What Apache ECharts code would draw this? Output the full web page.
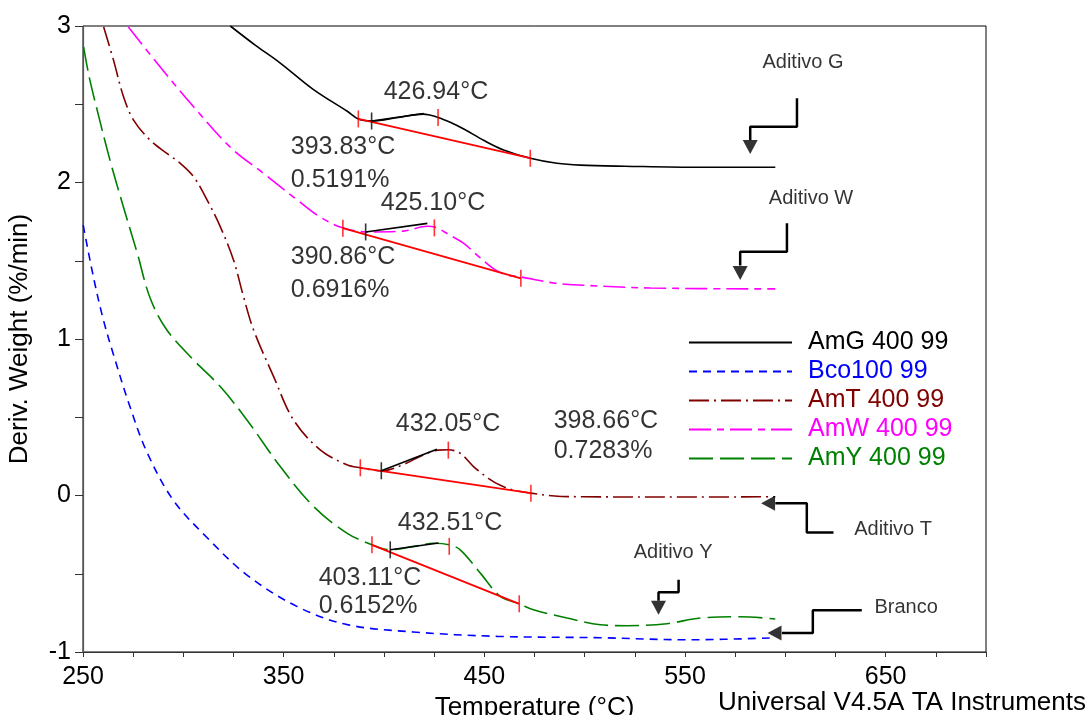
<!DOCTYPE html>
<html>
<head>
<meta charset="utf-8">
<script src="https://cdn.jsdelivr.net/npm/echarts/dist/echarts.min.js"></script>
<style>
  html, body { margin: 0; padding: 0; background: #fff; }
  #chart { width: 1090px; height: 715px; }
</style>
</head>
<body>
<div id="chart"></div>
<script>
// curves: temperature (°C) / deriv. weight (%/min)
var tempG = [323.4, 335.8, 348.3, 364.7, 381.7, 387.2, 394.1, 407, 419.6, 426.9, 433, 440, 449.6, 459.6, 472.9, 486.2, 497.8, 520, 557.6, 595]
var amG = [3.0, 2.878, 2.763, 2.595, 2.455, 2.406, 2.393, 2.415, 2.437, 2.416, 2.385, 2.34, 2.27, 2.208, 2.155, 2.123, 2.111, 2.104, 2.097, 2.097]

var tempB = [250.1, 255.3, 260, 265.2, 273.6, 282.1, 295, 311.9, 331.9, 356.8, 381.7, 414.6, 456.4, 507.8, 552.6, 595]
var bco = [1.727, 1.39, 1.13, 0.9, 0.56, 0.27, -0.03, -0.27, -0.51, -0.71, -0.825, -0.872, -0.9, -0.909, -0.922, -0.909]

var tempT = [260.3, 265.2, 270.2, 275.2, 283.5, 291.8, 298.5, 305.1, 311.8, 318.4, 325, 330, 335, 345, 354.9, 368.2, 381.5, 388.2, 399.1, 410, 420, 427, 432, 438, 444.6, 452, 458, 465, 473.2, 485, 500, 550, 595]
var amT = [2.994, 2.782, 2.548, 2.399, 2.27, 2.186, 2.122, 2.037, 1.889, 1.718, 1.505, 1.27, 1.058, 0.76, 0.483, 0.292, 0.196, 0.177, 0.158, 0.2, 0.262, 0.29, 0.292, 0.27, 0.185, 0.11, 0.065, 0.033, 0.015, -0.003, -0.008, -0.01, -0.008]

var tempW = [272.6, 288.5, 303.5, 323.4, 339.8, 356.8, 368.2, 379.7, 391.7, 409.5, 421.5, 425.3, 432, 439.6, 446.5, 454.5, 461, 468, 484.4, 496.8, 532.8, 595]
var amW = [2.993, 2.738, 2.508, 2.226, 2.06, 1.888, 1.779, 1.709, 1.684, 1.689, 1.72, 1.715, 1.67, 1.612, 1.535, 1.45, 1.41, 1.397, 1.358, 1.345, 1.326, 1.32]

var tempY = [250.3, 253, 257.5, 263.5, 270, 277, 283.5, 291.8, 305.1, 318.4, 331.7, 348.3, 364.9, 381.5, 394, 403.1, 415, 425, 432.5, 438, 448, 458, 467.4, 474.5, 491.2, 507.8, 521.1, 541, 557.6, 577.5, 595]
var amY = [2.867, 2.68, 2.44, 2.14, 1.85, 1.55, 1.26, 1.058, 0.866, 0.696, 0.483, 0.185, -0.07, -0.24, -0.315, -0.347, -0.325, -0.305, -0.315, -0.347, -0.496, -0.645, -0.692, -0.73, -0.783, -0.826, -0.832, -0.819, -0.783, -0.775, -0.789]

// baselines (red) and onset tangents (black), two points each
var baseG = [[387.2, 2.406], [472.9, 2.155]]
var baseW = [[379.5, 1.708], [468.2, 1.388]]
var baseT = [[388.2, 0.177], [473.2, 0.015]]
var baseY = [[394, -0.315], [467.4, -0.692]]
var tanG = [[393.83, 2.393], [419.8, 2.441]]
var tanW = [[390.86, 1.684], [421.6, 1.739]]
var tanT = [[398.66, 0.158], [426.4, 0.296]]
var tanY = [[403.11, -0.347], [427.2, -0.304]]

// tick marks on the curves
var redTicks = [[387.2, 2.406], [426.94, 2.416], [472.9, 2.155],
  [379.5, 1.708], [425.1, 1.71], [468.2, 1.388],
  [388.2, 0.177], [432.05, 0.29], [473.2, 0.015],
  [394, -0.315], [432.51, -0.325], [467.4, -0.692]]
var blackTicks = [[393.83, 2.393], [390.86, 1.684], [398.66, 0.158], [403.11, -0.347]]

// result labels
var annoText = ['426.94°C', '393.83°C', '0.5191%', '425.10°C', '390.86°C', '0.6916%',
  '432.05°C', '398.66°C', '0.7283%', '432.51°C', '403.11°C', '0.6152%']
var annoT = [399.6, 353.3, 353.3, 398.1, 353.3, 353.3, 405.6, 484.3, 484.3, 406.6, 367.2, 367.2]
var annoV = [2.578, 2.227, 2.016, 1.869, 1.524, 1.313, 0.458, 0.477, 0.286, -0.174, -0.526, -0.704]

// sample notes with arrows
var noteText = ['Aditivo G', 'Aditivo W', 'Aditivo T', 'Branco', 'Aditivo Y']
var noteT = [608.8, 612.8, 653.7, 660.2, 544.1]
var noteV = [2.769, 1.901, -0.219, -0.717, -0.367]
var arrowPaths = [
  [[605.8, 2.538], [605.8, 2.356], [582.5, 2.356], [582.5, 2.27]],
  [[600.8, 1.739], [600.8, 1.558], [577.5, 1.558], [577.5, 1.47]],
  [[624, -0.236], [610.7, -0.236], [610.7, -0.049], [595, -0.049]],
  [[638.1, -0.734], [613.7, -0.734], [613.7, -0.879], [598.3, -0.879]],
  [[546.8, -0.538], [546.8, -0.619], [536.8, -0.619], [536.8, -0.672]]
]
var arrowHeads = [[582.5, 2.227, 180], [577.5, 1.421, 180], [591.4, -0.049, 90], [594.6, -0.879, 90], [536.8, -0.717, 180]]

var FONT = '"Liberation Sans", Arial, sans-serif'

function zip(xs, ys) {
  return xs.map(function (x, i) { return [x, ys[i]] })
}

function curve(name, xs, ys, color, type) {
  return {
    name: name,
    type: 'line',
    data: zip(xs, ys),
    smooth: 0.35,
    symbol: 'none',
    lineStyle: { color: color, width: 1.6, type: type },
    itemStyle: { color: color },
    z: 3
  }
}

function segment(pts, color, width) {
  return {
    type: 'line',
    data: pts,
    symbol: 'none',
    lineStyle: { color: color, width: width, type: 'solid' },
    z: 4
  }
}

var series = [
  curve('AmG 400 99', tempG, amG, '#000000', 'solid'),
  curve('Bco100 99', tempB, bco, '#0000ff', [8, 6]),
  curve('AmT 400 99', tempT, amT, '#800000', [20, 5, 2, 5]),
  curve('AmW 400 99', tempW, amW, '#ff00ff', [22, 6, 7, 6]),
  curve('AmY 400 99', tempY, amY, '#008000', [24, 7])
]
;[baseG, baseW, baseT, baseY].forEach(function (b) { series.push(segment(b, '#ff0000', 1.8)) })
;[tanG, tanW, tanT, tanY].forEach(function (t) { series.push(segment(t, '#000000', 1.6)) })
arrowPaths.forEach(function (p) { series.push(segment(p, '#000000', 2.5)) })

series.push({
  type: 'scatter', data: redTicks, symbol: 'rect', symbolSize: [1.6, 17],
  itemStyle: { color: '#ff0000' }, z: 5
})
series.push({
  type: 'scatter', data: blackTicks, symbol: 'rect', symbolSize: [1.6, 17],
  itemStyle: { color: '#000000' }, z: 5
})
series.push({
  type: 'scatter', symbol: 'triangle', symbolSize: [15, 14],
  data: arrowHeads.map(function (a) { return { value: [a[0], a[1]], symbolRotate: a[2] } }),
  itemStyle: { color: '#000000' }, z: 5
})
series.push({
  type: 'scatter', symbolSize: 1, itemStyle: { color: 'transparent' },
  data: annoT.map(function (t, i) { return [t, annoV[i], annoText[i]] }),
  label: {
    show: true, position: 'right', distance: 0,
    formatter: function (p) { return p.data[2] },
    color: '#000', fontSize: 25, fontFamily: FONT
  },
  z: 6
})
series.push({
  type: 'scatter', symbolSize: 1, itemStyle: { color: 'transparent' },
  data: noteT.map(function (t, i) { return [t, noteV[i], noteText[i]] }),
  label: {
    show: true, position: 'inside',
    formatter: function (p) { return p.data[2] },
    color: '#000', fontSize: 20, fontFamily: FONT
  },
  z: 6
})

var legendColors = ['#000000', '#0000ff', '#800000', '#ff00ff', '#008000']
var legendNames = ['AmG 400 99', 'Bco100 99', 'AmT 400 99', 'AmW 400 99', 'AmY 400 99']

var option = {
  animation: false,
  backgroundColor: '#ffffff',
  textStyle: { fontFamily: FONT },
  grid: {
    left: 83, right: 104, top: 26, bottom: 63,
    outerBoundsMode: 'none',
    containLabel: false,
    show: true, borderColor: '#000', borderWidth: 1
  },
  legend: {
    orient: 'vertical',
    left: 683,
    top: 325,
    itemWidth: 103,
    itemHeight: 14,
    itemGap: 4,
    itemStyle: { opacity: 0 },
    data: legendNames.map(function (n, i) {
      return { name: n, textStyle: { color: legendColors[i] } }
    }),
    textStyle: { fontSize: 25, fontFamily: FONT, lineHeight: 24, padding: [0, 0, 0, 11] }
  },
  xAxis: {
    type: 'value',
    min: 250,
    max: 700,
    interval: 25,
    name: 'Temperature (°C)',
    nameLocation: 'middle',
    nameGap: 39,
    nameTextStyle: { fontSize: 26, color: '#000', fontFamily: FONT },
    axisLine: { onZero: false, lineStyle: { color: '#333', width: 1.2 } },
    axisTick: { length: 5, lineStyle: { color: '#333' } },
    axisLabel: {
      fontSize: 25, color: '#000', margin: 13, fontFamily: FONT,
      formatter: function (v) { return ((v - 250) % 100 === 0 && v < 700) ? String(v) : '' }
    },
    splitLine: { show: false }
  },
  yAxis: {
    type: 'value',
    min: -1,
    max: 3,
    interval: 0.5,
    name: 'Deriv. Weight (%/min)',
    nameLocation: 'middle',
    nameGap: 50,
    nameRotate: 90,
    nameTextStyle: { fontSize: 26, color: '#000', fontFamily: FONT },
    axisLine: { show: true, onZero: false, lineStyle: { color: '#555', width: 1.2 } },
    axisTick: { show: true, length: 8, lineStyle: { color: '#333' } },
    axisLabel: {
      fontSize: 25, color: '#000', margin: 12, fontFamily: FONT,
      formatter: function (v) { return v % 1 === 0 ? String(v) : '' }
    },
    splitLine: { show: false }
  },
  graphic: [{
    type: 'text',
    left: 718,
    top: 690,
    style: { text: 'Universal V4.5A TA Instruments', fill: '#000', font: '26px ' + FONT }
  }],
  series: series
}

var chart = echarts.init(document.getElementById('chart'))
chart.setOption(option)
</script>
</body>
</html>
